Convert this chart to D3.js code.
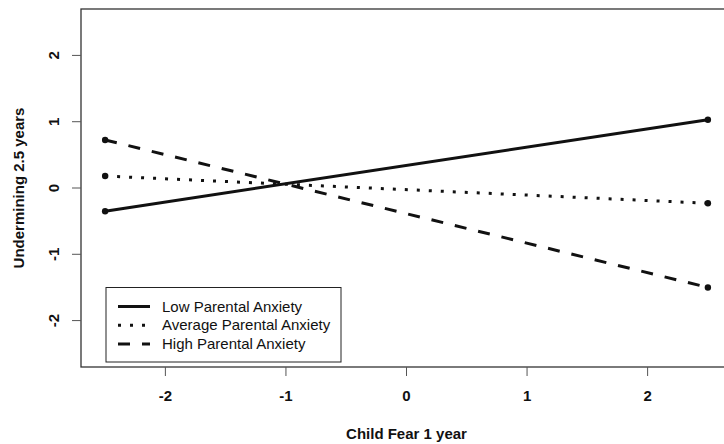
<!DOCTYPE html>
<html lang="en">
<head>
<meta charset="UTF-8">
<title>Undermining by Child Fear</title>
<script src="https://d3js.org/d3.v7.min.js"></script>
<style>
    body { margin: 0; background: #fff; }
    svg { display: block; font-family: "Liberation Sans", Arial, sans-serif; }
    .tick-label { font-size: 15px; font-weight: bold; fill: #111; }
    .axis-title { font-size: 15px; font-weight: bold; fill: #111; }
    .legend-text { font-size: 15px; fill: #111; }
</style>
</head>
<body>
<svg id="chart" width="724" height="444"></svg>
<script>
    // data
    const fearLevels = [-2.5, 2.5];
    const lowAnxiety = [-0.35, 1.03];
    const averageAnxiety = [0.18, -0.23];
    const highAnxiety = [0.725, -1.50];
    const seriesNames = ["Low Parental Anxiety", "Average Parental Anxiety", "High Parental Anxiety"];
    const xTicks = [-2, -1, 0, 1, 2];
    const yTicks = [-2, -1, 0, 1, 2];

    const series = [
        { name: seriesNames[0], values: lowAnxiety, dash: null },
        { name: seriesNames[1], values: averageAnxiety, dash: "3,9" },
        { name: seriesNames[2], values: highAnxiety, dash: "12,12" }
    ];

    const svg = d3.select("#chart");
    const plotLeft = 81, plotTop = 9, plotRight = 732, plotBottom = 367;

    // plot region is wider than the window, as in the cropped original
    const x = d3.scaleLinear().domain([-2.7, 2.7]).range([plotLeft, plotRight]);
    const y = d3.scaleLinear().domain([-2.7, 2.7]).range([plotBottom, plotTop]);

    // box
    svg.append("rect")
        .attr("x", plotLeft).attr("y", plotTop)
        .attr("width", plotRight - plotLeft).attr("height", plotBottom - plotTop)
        .attr("fill", "none").attr("stroke", "#333").attr("stroke-width", 1.3);

    // x axis ticks
    const xg = svg.append("g");
    xTicks.forEach(t => {
        xg.append("line")
            .attr("x1", x(t)).attr("x2", x(t))
            .attr("y1", plotBottom).attr("y2", plotBottom + 9)
            .attr("stroke", "#555").attr("stroke-width", 1);
        xg.append("text").attr("class", "tick-label")
            .attr("x", x(t)).attr("y", 401)
            .attr("text-anchor", "middle")
            .text(t);
    });

    // y axis ticks (labels rotated like R's default)
    const yg = svg.append("g");
    yTicks.forEach(t => {
        yg.append("line")
            .attr("x1", plotLeft - 9).attr("x2", plotLeft)
            .attr("y1", y(t)).attr("y2", y(t))
            .attr("stroke", "#555").attr("stroke-width", 1);
        yg.append("text").attr("class", "tick-label")
            .attr("transform", `translate(59,${y(t)}) rotate(-90)`)
            .attr("text-anchor", "middle")
            .text(t);
    });

    // axis titles
    svg.append("text").attr("class", "axis-title")
        .attr("x", (plotLeft + plotRight) / 2).attr("y", 438.5)
        .attr("text-anchor", "middle")
        .text("Child Fear 1 year");

    svg.append("text").attr("class", "axis-title")
        .attr("transform", `translate(24,${(plotTop + plotBottom) / 2}) rotate(-90)`)
        .attr("text-anchor", "middle")
        .text("Undermining 2.5 years");

    // lines and end points
    const line = d3.line()
        .x((d, i) => x(fearLevels[i]))
        .y(d => y(d));

    series.forEach(s => {
        svg.append("path")
            .datum(s.values)
            .attr("d", line)
            .attr("fill", "none")
            .attr("stroke", "#111")
            .attr("stroke-width", 3)
            .attr("stroke-dasharray", s.dash);
        svg.selectAll(null)
            .data(s.values)
            .enter().append("circle")
            .attr("cx", (d, i) => x(fearLevels[i]))
            .attr("cy", d => y(d))
            .attr("r", 3.2)
            .attr("fill", "#111");
    });

    // legend
    const lg = svg.append("g");
    lg.append("rect")
        .attr("x", 106).attr("y", 287.5)
        .attr("width", 235).attr("height", 74.5)
        .attr("fill", "#fff").attr("stroke", "#222").attr("stroke-width", 1);

    series.forEach((s, i) => {
        const ly = 306.5 + i * 18.7;
        lg.append("line")
            .attr("x1", 118).attr("x2", 150)
            .attr("y1", ly).attr("y2", ly)
            .attr("stroke", "#111").attr("stroke-width", 3)
            .attr("stroke-dasharray", s.dash);
        lg.append("text").attr("class", "legend-text")
            .attr("x", 162).attr("y", ly + 5)
            .text(s.name);
    });
</script>
</body>
</html>
